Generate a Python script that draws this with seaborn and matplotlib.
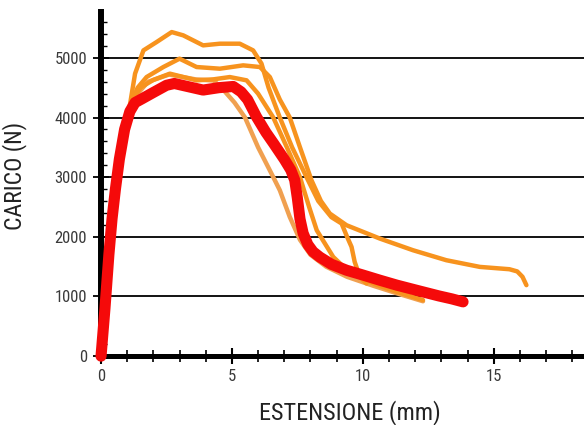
import matplotlib
matplotlib.use("Agg")
import matplotlib.pyplot as plt
import seaborn as sns
import pandas as pd
import numpy as np
from matplotlib.ticker import MultipleLocator

# ---- data (extension mm, load N) ----
red_x = [0, 0.15, 0.3, 0.42, 0.55, 0.7, 0.9, 1.1, 1.3, 1.55, 2.0, 2.5, 2.8, 3.3, 3.9, 4.5, 5.05, 5.35,
         5.6, 5.94, 6.3, 6.6, 7.0, 7.25, 7.4, 7.5, 7.6, 7.72, 7.9, 8.1, 8.36, 8.8, 9.38, 10.0, 10.65,
         11.3, 12.05, 12.9, 13.4, 13.83]
red_y = [0, 800, 1700, 2300, 2800, 3300, 3800, 4100, 4250, 4310, 4420, 4540, 4570, 4520, 4460, 4500, 4520, 4430,
         4300, 4010, 3750, 3560, 3300, 3120, 2950, 2650, 2300, 2060, 1870, 1750, 1660, 1540, 1440, 1360, 1273,
         1190, 1105, 1010, 960, 910]

# top curve (peak ~5430)
o1_x = [1.1, 1.3, 1.62, 2.12, 2.7, 3.14, 3.9, 4.54, 5.3, 5.81, 6.13, 6.4, 6.83, 7.3, 7.85, 8.3, 8.8,
        9.19, 9.4, 9.57, 9.69, 9.89, 10.14]
o1_y = [4200, 4735, 5125, 5264, 5432, 5377, 5209, 5237, 5237, 5125, 4903, 4500, 4000, 3500, 3000, 2600, 2330,
        2223, 2000, 1831, 1580, 1328, 1218]

# long tail curve (peak ~4990)
o2_x = [1.15, 1.4, 1.74, 2.38, 3.0, 3.65, 4.54, 5.43, 6.07, 6.45, 6.83, 7.21, 7.6, 8.04, 8.4, 8.74, 9.38,
        10.65, 11.92, 13.19, 14.47, 15.6, 15.9, 16.1, 16.25]
o2_y = [4250, 4500, 4678, 4846, 4986, 4846, 4818, 4874, 4846, 4678, 4300, 4000, 3500, 2948, 2600, 2390, 2194,
        1971, 1775, 1608, 1496, 1457, 1420, 1330, 1190]

# curve with peak ~4735
o3_x = [1.15, 1.5, 2.0, 2.63, 3.65, 4.3, 4.92, 5.56, 6.0, 6.58, 7.1, 7.6, 7.95, 8.24, 8.87, 9.5, 10.5,
        11.5, 12.3]
o3_y = [4250, 4500, 4630, 4735, 4623, 4640, 4678, 4623, 4400, 4000, 3500, 3000, 2500, 2110, 1663, 1400, 1200,
        1050, 940]

# lighter curve that drops first
o4_x = [1.2, 1.8, 2.6, 3.6, 4.3, 4.7, 5.1, 5.5, 6.0, 6.58, 6.83, 7.21, 7.6, 8.0, 8.6, 9.4, 10.4,
        11.4, 12.3]
o4_y = [4300, 4600, 4720, 4640, 4620, 4450, 4250, 4000, 3500, 3000, 2780, 2333, 1950, 1700, 1500, 1330, 1180,
        1040, 920]

x_ticks = [0, 5, 10, 15]
y_ticks = [0, 1000, 2000, 3000, 4000, 5000]

sns.set_theme(style="white")
plt.rcParams['font.family'] = ['Roboto Condensed', 'Liberation Sans Narrow', 'Roboto', 'DejaVu Sans']

fig = plt.figure(figsize=(5.84, 4.25), dpi=100)
ax = fig.add_axes([0.173, 0.162, 0.827, 0.81])

orange = "#F7931E"
light = "#F0A050"
for xs, ys, c in [(o4_x, o4_y, light), (o3_x, o3_y, orange), (o2_x, o2_y, orange), (o1_x, o1_y, orange)]:
    sns.lineplot(x=xs, y=ys, sort=False, estimator=None, ax=ax, color=c, lw=3.2,
                 solid_joinstyle="round", solid_capstyle="round", zorder=3)
sns.lineplot(x=red_x, y=red_y, sort=False, estimator=None, ax=ax, color="#F50A0A", lw=8.0,
             solid_joinstyle="round", solid_capstyle="round", zorder=4)
for l in ax.lines:
    l.set_clip_on(False)

ax.set_xlim(0, 18.45)
ax.set_ylim(0, 5770)
ax.set_xticks(x_ticks)
ax.set_yticks(y_ticks)
ax.xaxis.set_minor_locator(MultipleLocator(1))
ax.yaxis.set_minor_locator(MultipleLocator(200))

for s in ["top", "right"]:
    ax.spines[s].set_visible(False)
ax.spines["left"].set_linewidth(4.3)
ax.spines["bottom"].set_linewidth(3.6)
ax.spines["left"].set_color("black")
ax.spines["bottom"].set_color("black")
ax.spines["left"].set_zorder(3.5)
ax.spines["bottom"].set_zorder(3.5)

ax.grid(False)
for yv in y_ticks[1:]:
    ax.axhline(yv, color="black", lw=1.3, zorder=1)

ax.tick_params(axis="x", which="major", direction="inout", length=12, width=1.5, colors="black",
               labelsize=12, pad=3, bottom=True)
ax.tick_params(axis="x", which="minor", direction="inout", length=9, width=1.2, colors="black", bottom=True)
ax.tick_params(axis="y", which="major", direction="inout", length=12, width=1.3, colors="black",
               labelsize=12, pad=4, left=True)
ax.tick_params(axis="y", which="minor", direction="in", length=4, width=1.0, colors="black", left=True)
for lab in ax.get_xticklabels() + ax.get_yticklabels():
    lab.set_color("#3a3a3a")

ax.set_xlabel("ESTENSIONE (mm)", fontsize=17.5, color="#222222")
ax.set_ylabel("CARICO (N)", fontsize=17, color="#222222")
ax.xaxis.set_label_coords(0.516, -0.128)
ax.yaxis.set_label_coords(-0.153, 0.523)

fig.savefig("out.png", dpi=100, facecolor="white")
